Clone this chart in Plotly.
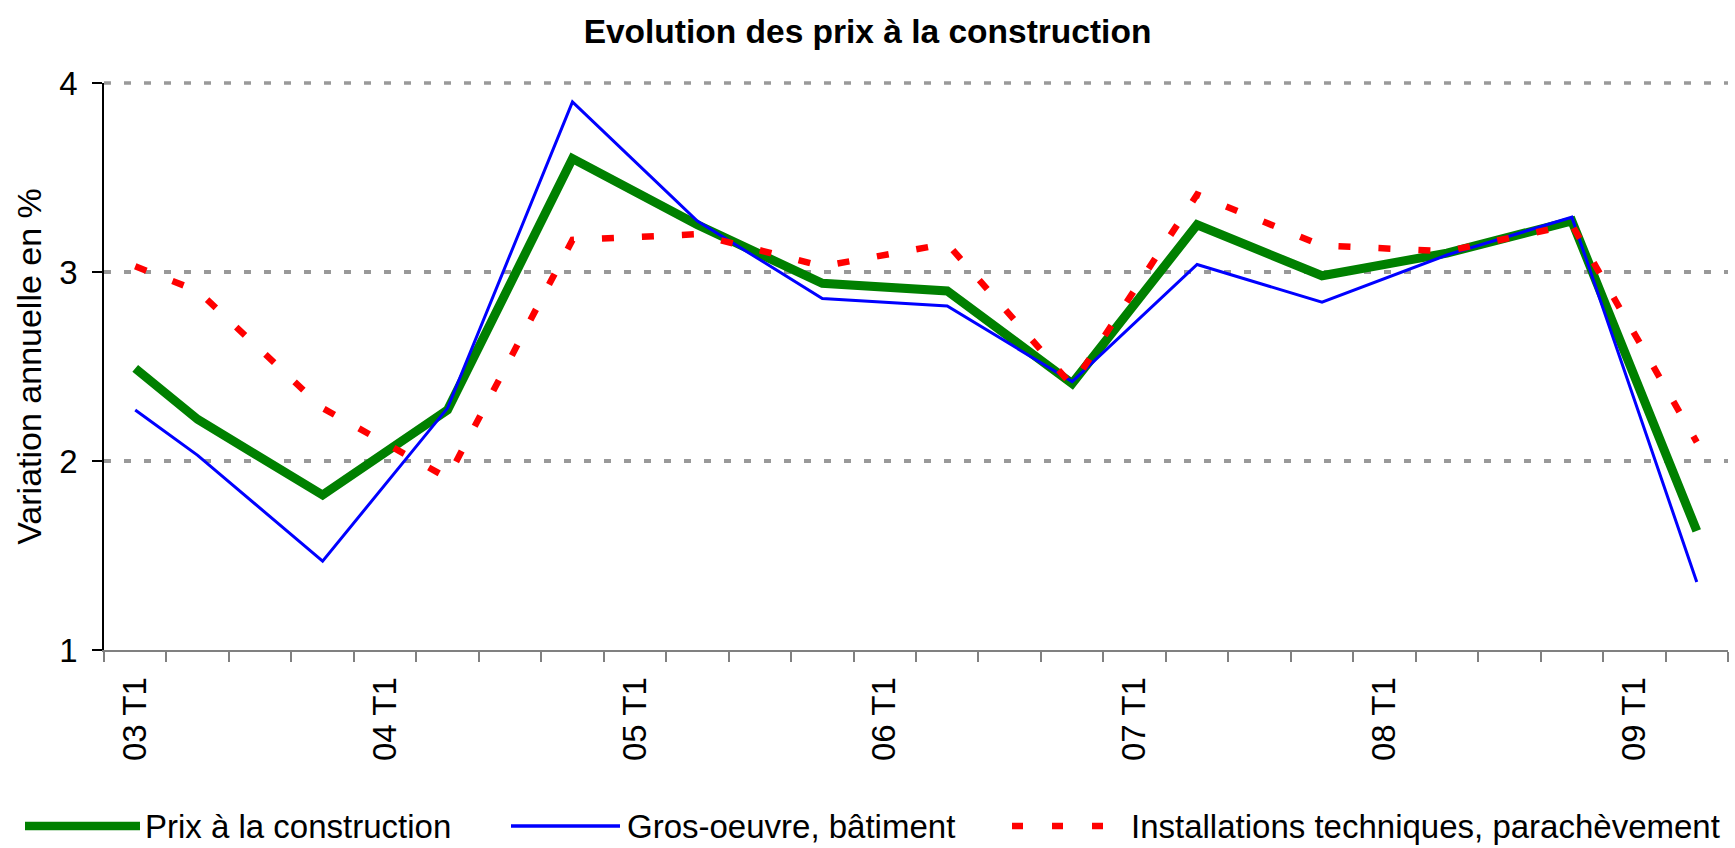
import plotly.graph_objects as go

# ---- data -------------------------------------------------------------
QUARTERS = [
    "03 T1", "03 T2", "03 T3", "03 T4",
    "04 T1", "04 T2", "04 T3", "04 T4",
    "05 T1", "05 T2", "05 T3", "05 T4",
    "06 T1", "06 T2", "06 T3", "06 T4",
    "07 T1", "07 T2", "07 T3", "07 T4",
    "08 T1", "08 T2", "08 T3", "08 T4",
    "09 T1", "09 T2",
]
TICK_TEXT = [q if q.endswith("T1") else "" for q in QUARTERS]

DATES = ["03 T1", "03 T2", "03 T4", "04 T2", "04 T4", "05 T2", "05 T4",
         "06 T2", "06 T4", "07 T2", "07 T4", "08 T2", "08 T4", "09 T2"]

PRIX_CONSTRUCTION = [2.49, 2.22, 1.82, 2.27, 3.60, 3.25, 2.94,
                     2.90, 2.41, 3.25, 2.98, 3.10, 3.27, 1.63]
GROS_OEUVRE = [2.27, 2.03, 1.47, 2.28, 3.90, 3.27, 2.86,
               2.82, 2.42, 3.04, 2.84, 3.09, 3.29, 1.36]
INSTALLATIONS = [3.03, 2.90, 2.28, 1.91, 3.17, 3.20, 3.03,
                 3.15, 2.40, 3.41, 3.14, 3.11, 3.25, 2.10]

SERIES_NAMES = ["Prix à la construction", "Gros-oeuvre, bâtiment",
                "Installations techniques, parachèvement"]

TITLE = "Evolution des prix à la construction"
Y_TITLE = "Variation annuelle en %"
Y_TICKS = [1, 2, 3, 4]

# ---- layout constants ---------------------------------------------------
W, H = 1735, 848
ML, MR, MT, MB = 104, 7, 83, 198
PW, PH = W - ML - MR, H - MT - MB
FONT = "Liberation Sans, Arial, Helvetica, sans-serif"
FS = 33

GREEN = "#008000"
BLUE = "#0000FF"
RED = "#FF0000"
GRID = "#999999"

def px_x(p):
    return (p - ML) / PW

def px_y(p):
    return (H - MB - p) / PH

fig = go.Figure()
fig.add_trace(go.Scatter(x=DATES, y=PRIX_CONSTRUCTION, mode="lines",
                         name=SERIES_NAMES[0],
                         line=dict(color=GREEN, width=9)))
fig.add_trace(go.Scatter(x=DATES, y=GROS_OEUVRE, mode="lines",
                         name=SERIES_NAMES[1],
                         line=dict(color=BLUE, width=3)))
fig.add_trace(go.Scatter(x=DATES, y=INSTALLATIONS, mode="lines",
                         name=SERIES_NAMES[2],
                         line=dict(color=RED, width=6.5, dash="12px,28px")))

# top gridline (plotly drops the grid line lying on the plot edge);
# the y range ends at Y_TICKS[-1], i.e. at the top of the plot area
shapes = [dict(type="line", xref="paper", yref="paper", x0=0, x1=1,
               y0=1, y1=1, layer="below",
               line=dict(color=GRID, width=3.5, dash="7px,13px"))]

# ---- custom legend (long sample lines like the original) ---------------
leg_y = 826
legend_items = [
    (25, 140, 143, dict(color=GREEN, width=8.5)),
    (511, 620, 625, dict(color=BLUE, width=3.3)),
    (1012, 1104, 1129, dict(color=RED, width=6.5, dash="11px,29px")),
]
annotations = []
for (x0, x1, tx, ln), name in zip(legend_items, SERIES_NAMES):
    shapes.append(dict(type="line", xref="paper", yref="paper",
                       x0=px_x(x0), x1=px_x(x1), y0=px_y(leg_y), y1=px_y(leg_y),
                       line=ln, layer="above"))
    annotations.append(dict(text=name, xref="paper", yref="paper",
                            x=px_x(tx), y=px_y(leg_y), xanchor="left",
                            yanchor="middle", showarrow=False,
                            font=dict(family=FONT, size=FS, color="black")))

fig.update_layout(
    width=W, height=H,
    margin=dict(l=ML, r=MR, t=MT, b=MB, autoexpand=False),
    paper_bgcolor="white", plot_bgcolor="white",
    showlegend=False,
    font=dict(family=FONT, size=FS, color="black"),
    title=dict(text="<b>" + TITLE + "</b>", x=0.5, xref="container",
               xanchor="center", y=1 - 31 / H, yref="container",
               yanchor="middle",
               font=dict(family=FONT, size=33.5, color="black")),
    xaxis=dict(
        type="category", categoryorder="array", categoryarray=QUARTERS,
        range=[-0.5, len(QUARTERS) - 0.5],
        tickmode="array", tickvals=QUARTERS, ticktext=TICK_TEXT,
        tickson="boundaries", ticks="outside", ticklen=10, tickwidth=1.5,
        tickcolor="#808080", tickangle=-90, ticklabelstandoff=12,
        showline=True, linecolor="#808080", linewidth=2,
        showgrid=False, zeroline=False, automargin=False,
        tickfont=dict(family=FONT, size=FS, color="black"),
    ),
    yaxis=dict(
        range=[Y_TICKS[0], Y_TICKS[-1]], tickmode="array",
        tickvals=Y_TICKS,
        ticks="outside", ticklen=10, tickwidth=1.5, tickcolor="black",
        ticklabelstandoff=8,
        showline=True, linecolor="black", linewidth=1.5,
        showgrid=True, gridcolor=GRID, gridwidth=3.5,
        griddash="7px,13px", zeroline=False, automargin=False,
        tickfont=dict(family=FONT, size=FS, color="black"),
        title=dict(text=Y_TITLE, standoff=7,
                   font=dict(family=FONT, size=34, color="black")),
    ),
    shapes=shapes,
    annotations=annotations,
)

fig.write_html("out.html", config={"displayModeBar": False},
               post_script="document.body.style.margin='0';document.body.style.overflow='hidden';")
